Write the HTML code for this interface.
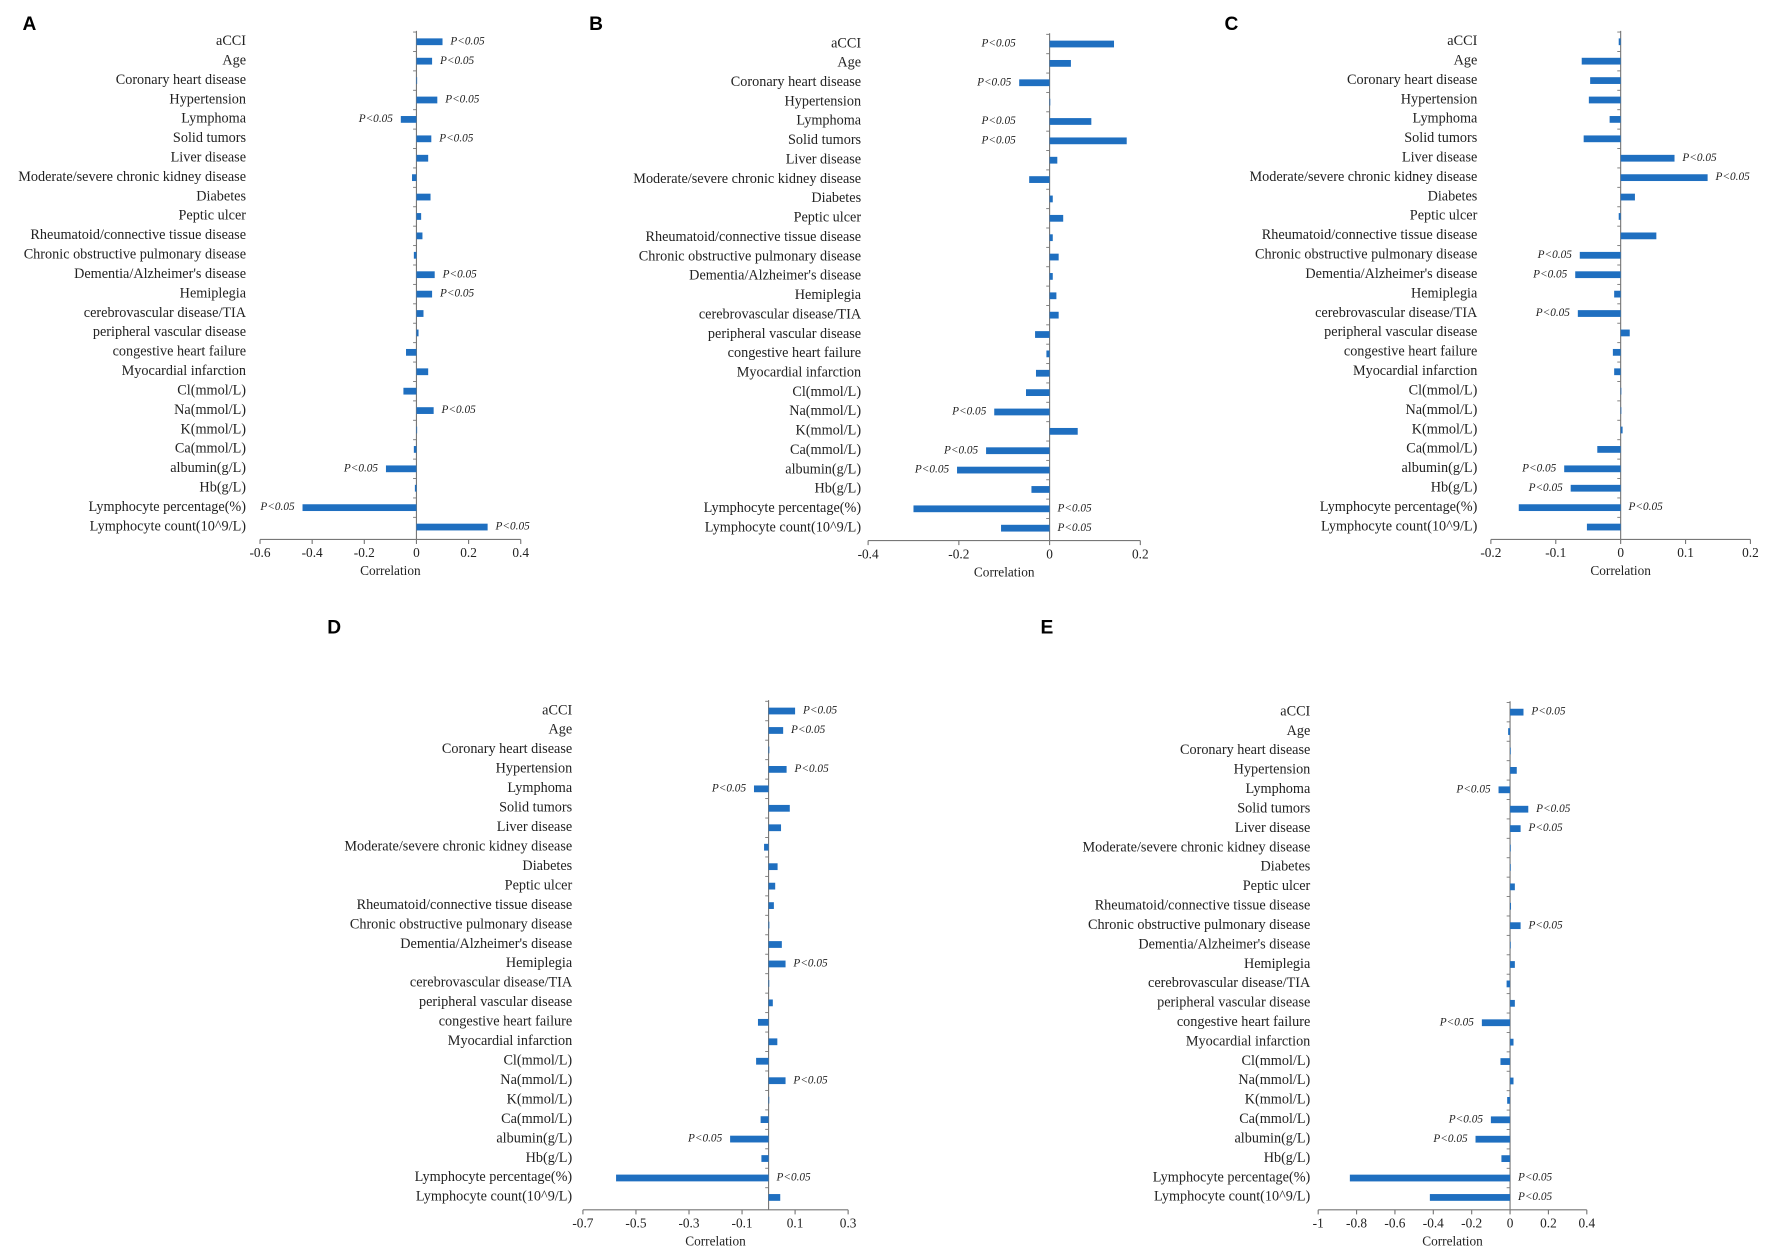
<!DOCTYPE html>
<html><head><meta charset="utf-8"><style>
html,body{margin:0;padding:0;background:#fff;}
svg{display:block;font-family:"Liberation Serif",serif;}
</style></head><body>
<svg id="fig" width="1772" height="1255" viewBox="0 0 1570.1 1112" preserveAspectRatio="none" xmlns="http://www.w3.org/2000/svg"></svg>
<script>
const categories = ["aCCI","Age","Coronary heart disease","Hypertension","Lymphoma","Solid tumors","Liver disease","Moderate/severe chronic kidney disease","Diabetes","Peptic ulcer","Rheumatoid/connective tissue disease","Chronic obstructive pulmonary disease","Dementia/Alzheimer's disease","Hemiplegia","cerebrovascular disease/TIA","peripheral vascular disease","congestive heart failure","Myocardial infarction","Cl(mmol/L)","Na(mmol/L)","K(mmol/L)","Ca(mmol/L)","albumin(g/L)","Hb(g/L)","Lymphocyte percentage(%)","Lymphocyte count(10^9/L)"];
const valuesA = [0.10,0.06,0.002,0.08,-0.06,0.057,0.045,-0.017,0.054,0.018,0.023,-0.01,0.07,0.06,0.027,0.008,-0.04,0.045,-0.05,0.066,0.001,-0.01,-0.117,-0.006,-0.437,0.273];
const valuesB = [0.142,0.047,-0.067,0.001,0.092,0.17,0.017,-0.045,0.007,0.03,0.007,0.02,0.007,0.015,0.02,-0.032,-0.007,-0.03,-0.052,-0.122,0.062,-0.14,-0.204,-0.04,-0.30,-0.107];
const valuesC = [-0.003,-0.06,-0.047,-0.049,-0.017,-0.057,0.083,0.134,0.022,-0.003,0.055,-0.063,-0.07,-0.01,-0.066,0.014,-0.012,-0.01,0.0,0.0,0.003,-0.036,-0.087,-0.077,-0.157,-0.052];
const valuesD = [0.10,0.055,0.003,0.068,-0.055,0.08,0.047,-0.017,0.034,0.025,0.02,0.003,0.05,0.064,0.001,0.016,-0.04,0.033,-0.047,0.064,0.001,-0.03,-0.145,-0.027,-0.575,0.044];
const valuesE = [0.07,-0.01,0.003,0.035,-0.06,0.095,0.055,0.002,0.002,0.025,0.005,0.055,0.002,0.025,-0.018,0.025,-0.147,0.018,-0.05,0.018,-0.015,-0.1,-0.18,-0.045,-0.835,-0.418];
const sigA = {0:"R",1:"R",3:"R",4:"L",5:"R",12:"R",13:"R",19:"R",22:"L",24:"L",25:"R"};
const sigB = {0:"L",2:"L",4:"L",5:"L",19:"L",21:"L",22:"L",24:"R",25:"R"};
const sigC = {6:"R",7:"R",11:"L",12:"L",14:"L",22:"L",23:"L",24:"R"};
const sigD = {0:"R",1:"R",3:"R",4:"L",13:"R",19:"R",22:"L",24:"R"};
const sigE = {0:"R",4:"L",5:"R",6:"R",11:"R",16:"L",21:"L",22:"L",24:"R",25:"R"};
const ticksA = ["-0.6","-0.4","-0.2","0","0.2","0.4"];
const ticksB = ["-0.4","-0.2","0","0.2"];
const ticksC = ["-0.2","-0.1","0","0.1","0.2"];
const ticksD = ["-0.7","-0.5","-0.3","-0.1","0.1","0.3"];
const ticksE = ["-1","-0.8","-0.6","-0.4","-0.2","0","0.2","0.4"];

const panels = [
 {id:"a",letter:"A",lx:20,ly:22,labelX:218,zero:369,scale:231,y0:37,y1:467,axisY:478,values:valuesA,sig:sigA,ticks:ticksA,lgap:7},
 {id:"b",letter:"B",lx:522,ly:22,labelX:763,zero:930,scale:402,y0:39,y1:468,axisY:479,values:valuesB,sig:sigB,ticks:ticksB,lgap:30},
 {id:"c",letter:"C",lx:1085,ly:22,labelX:1309,zero:1436,scale:575,y0:37,y1:467,axisY:478,values:valuesC,sig:sigC,ticks:ticksC,lgap:7},
 {id:"d",letter:"D",lx:290,ly:557,labelX:507,zero:681,scale:235,y0:630,y1:1061,axisY:1072,values:valuesD,sig:sigD,ticks:ticksD,lgap:7},
 {id:"e",letter:"E",lx:922,ly:557,labelX:1161,zero:1338,scale:170,y0:631,y1:1061,axisY:1072,values:valuesE,sig:sigE,ticks:ticksE,lgap:7}
];
const NS="http://www.w3.org/2000/svg";
const svg=document.getElementById('fig');
function mk(tag,attrs,parent){const e=document.createElementNS(NS,tag);for(const k in attrs)e.setAttribute(k,attrs[k]);parent.appendChild(e);return e;}
panels.forEach(p=>{
 const g=mk('g',{},svg);
 
 
 const xs=v=>p.zero+v*p.scale;
 const n=categories.length, step=(p.y1-p.y0)/(n-1);
 const ys=i=>p.y0+i*step;
 const L=mk('text',{x:p.lx,y:p.ly,'font-family':'Liberation Sans, sans-serif','font-weight':'bold','font-size':17,'dominant-baseline':'middle'},g);
 L.textContent=p.letter;
 
 
 const tmin=parseFloat(p.ticks[0]),tmax=parseFloat(p.ticks[p.ticks.length-1]);
 const ax=mk('line',{x1:xs(tmin),x2:xs(tmax),y1:p.axisY,y2:p.axisY,stroke:'#777','stroke-width':1},g);
 
 
 const vy=mk('line',{x1:xs(0),x2:xs(0),y1:p.y0-step/2-1,y2:p.axisY,stroke:'#777','stroke-width':1},g);
 
 
 for(let i=0;i<n;i++){mk('line',{x1:xs(0)-3,x2:xs(0),y1:ys(i)-step/2,y2:ys(i)-step/2,stroke:'#777','stroke-width':0.8},g);}
 p.ticks.forEach(t=>{
  const x=xs(parseFloat(t));
  mk('line',{x1:x,x2:x,y1:p.axisY,y2:p.axisY+4,stroke:'#777','stroke-width':1},g);
  const tt=mk('text',{x:x,y:p.axisY+13,'font-size':11.8,'text-anchor':'middle','dominant-baseline':'middle',fill:'#222'},g);
  tt.textContent=t;
  
  
 });
 const ct=mk('text',{x:xs((tmin+tmax)/2),y:p.axisY+29,'font-size':11.8,'text-anchor':'middle','dominant-baseline':'middle',fill:'#222'},g);
 ct.textContent='Correlation';
 
 
 categories.forEach((c,i)=>{
  const y=ys(i);
  const lt=mk('text',{x:p.labelX,y:y,'font-size':12.6,'text-anchor':'end','dominant-baseline':'middle',fill:'#222'},g);
  lt.textContent=c;
  
  
  const v=p.values[i];
  const x0=Math.min(xs(0),xs(v)),w=Math.abs(xs(v)-xs(0));
  const b=mk('rect',{x:x0,y:y-3,width:Math.max(w,0.6),height:6,fill:'#1f6fc0'},g);
  
  
  const s=p.sig[i];
  if(s){
   const lx = v<0 ? xs(v)-7 : xs(0)-p.lgap;
   const st=s==='R'?mk('text',{x:Math.max(xs(v),xs(0))+7,y:y,'font-size':10,'font-style':'italic','dominant-baseline':'middle',fill:'#222'},g)
                   :mk('text',{x:lx,y:y,'font-size':10,'font-style':'italic','text-anchor':'end','dominant-baseline':'middle',fill:'#222'},g);
   st.textContent='P<0.05';
   
   
  }
 });
});
</script>
</body></html>
